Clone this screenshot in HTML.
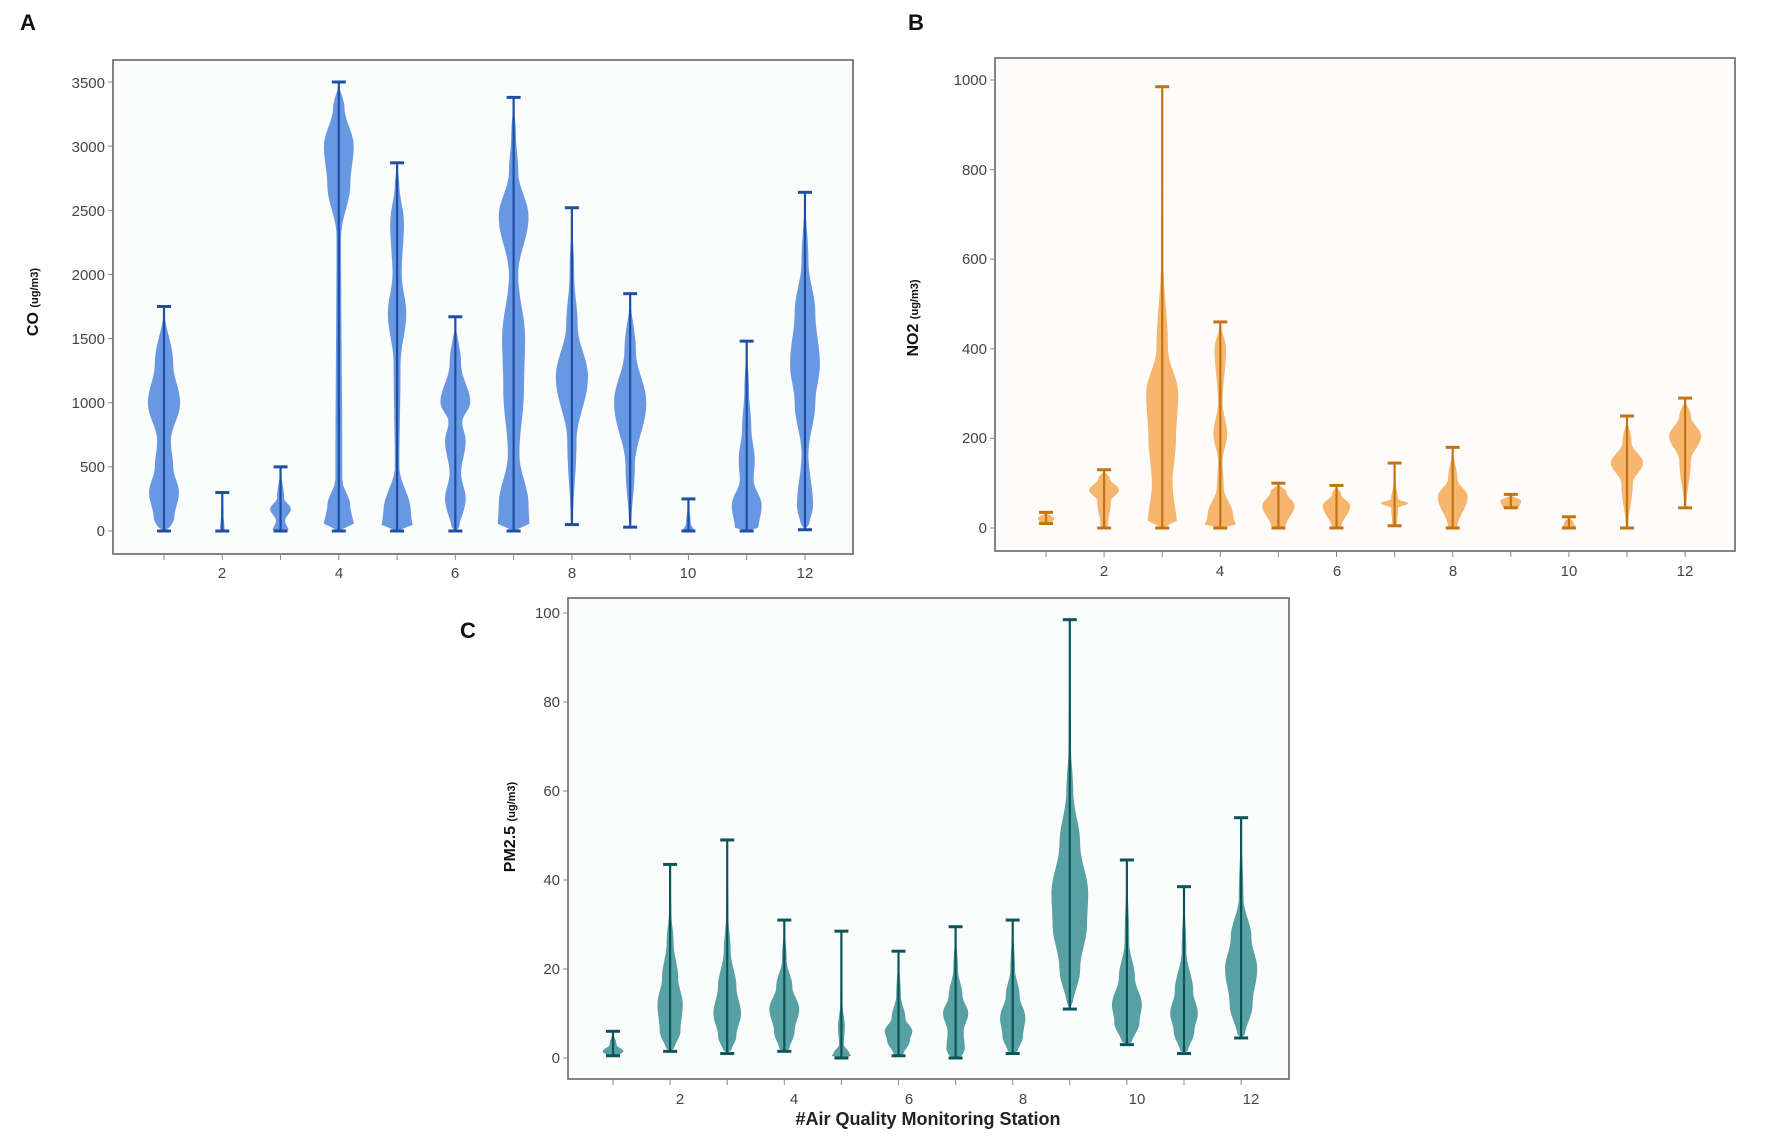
<!DOCTYPE html>
<html><head><meta charset="utf-8"><style>
html,body{margin:0;padding:0;background:#fff;}
svg{display:block;}
text{font-family:"Liberation Sans",sans-serif;}
</style></head><body>
<svg id="s" width="1772" height="1142" viewBox="0 0 1772 1142" xmlns="http://www.w3.org/2000/svg">
<rect width="1772" height="1142" fill="#fff"/>
<rect x="113" y="60" width="740" height="494" fill="#fbfcfc" stroke="#666" stroke-width="1.6"/>
<rect x="995" y="58" width="740" height="493" fill="#fdfcfa" stroke="#666" stroke-width="1.6"/>
<rect x="568" y="598" width="721" height="481" fill="#fbfcfc" stroke="#666" stroke-width="1.6"/>
<g id="v"></g>
<g font-size="15" fill="#444" text-anchor="end">
<text x="105" y="536">0</text><text x="105" y="472">500</text><text x="105" y="408">1000</text><text x="105" y="344">1500</text><text x="105" y="280">2000</text><text x="105" y="216">2500</text><text x="105" y="152">3000</text><text x="105" y="88">3500</text>
<text x="987" y="533">0</text><text x="987" y="443">200</text><text x="987" y="354">400</text><text x="987" y="264">600</text><text x="987" y="175">800</text><text x="987" y="85">1000</text>
<text x="560" y="1063">0</text><text x="560" y="974">20</text><text x="560" y="885">40</text><text x="560" y="796">60</text><text x="560" y="707">80</text><text x="560" y="618">100</text>
</g>
<g font-size="15" fill="#444" text-anchor="middle">
<text x="222" y="578">2</text><text x="339" y="578">4</text><text x="455" y="578">6</text><text x="572" y="578">8</text><text x="688" y="578">10</text><text x="805" y="578">12</text>
<text x="1104" y="576">2</text><text x="1220" y="576">4</text><text x="1337" y="576">6</text><text x="1453" y="576">8</text><text x="1569" y="576">10</text><text x="1685" y="576">12</text>
<text x="680" y="1104">2</text><text x="794" y="1104">4</text><text x="909" y="1104">6</text><text x="1023" y="1104">8</text><text x="1137" y="1104">10</text><text x="1251" y="1104">12</text>
</g>
<g font-weight="bold" fill="#111">
<text x="20" y="30" font-size="22">A</text>
<text x="908" y="30" font-size="22">B</text>
<text x="460" y="638" font-size="22">C</text>
<text transform="translate(38,302) rotate(-90)" text-anchor="middle" font-size="16">CO <tspan font-size="11">(ug/m3)</tspan></text>
<text transform="translate(918,318) rotate(-90)" text-anchor="middle" font-size="16">NO2 <tspan font-size="11">(ug/m3)</tspan></text>
<text transform="translate(515,827) rotate(-90)" text-anchor="middle" font-size="16">PM2.5 <tspan font-size="11">(ug/m3)</tspan></text>
<text x="928" y="1125" text-anchor="middle" font-size="18" fill="#222">#Air Quality Monitoring Station</text>
</g>
</svg>
<script>
var g=document.getElementById('v'),NS='http://www.w3.org/2000/svg';
function el(t,a){var e=document.createElementNS(NS,t);for(var k in a)e.setAttribute(k,a[k]);g.appendChild(e);}
function panel(P,data){
 for(var i=1;i<=12;i++){var x=P.x1+(i-1)*P.dx;el('line',{x1:x,y1:P.bot,x2:x,y2:P.bot+6,stroke:'#888','stroke-width':1});}
 P.yt.forEach(function(v){var y=P.y0-v*P.k;el('line',{x1:P.left-5,y1:y,x2:P.left,y2:y,stroke:'#888','stroke-width':1});});
 data.forEach(function(d,i){
  var cx=P.x1+i*P.dx,mn=d[0],mx=d[1],pts=[[mn,0]].concat(d[2]||[]).concat([[mx,0]]);
  pts.sort(function(a,b){return a[0]-b[0];});
  var L=[],R=[],N=60;
  for(var j=0;j<=N;j++){var v=mn+(mx-mn)*j/N,w=0;
   for(var q=0;q<pts.length-1;q++){if(v>=pts[q][0]&&v<=pts[q+1][0]){var t=(v-pts[q][0])/((pts[q+1][0]-pts[q][0])||1);t=(1-Math.cos(Math.PI*t))/2;w=pts[q][1]+(pts[q+1][1]-pts[q][1])*t;break;}}
   w*=1.15;
   var y=P.y0-v*P.k;L.push((cx-w).toFixed(1)+','+y.toFixed(1));R.unshift((cx+w).toFixed(1)+','+y.toFixed(1));}
  el('polygon',{points:L.concat(R).join(' '),fill:P.fill,'fill-opacity':0.85});
  var y1=P.y0-mn*P.k,y2=P.y0-mx*P.k;
  el('line',{x1:cx,y1:y1,x2:cx,y2:y2,stroke:P.line,'stroke-width':2.2});
  el('line',{x1:cx-7,y1:y1,x2:cx+7,y2:y1,stroke:P.line,'stroke-width':3});
  el('line',{x1:cx-7,y1:y2,x2:cx+7,y2:y2,stroke:P.line,'stroke-width':3});
 });
}
panel({x1:164,dx:58.27,y0:531,k:(531-82)/3500,bot:554,left:113,yt:[0,500,1000,1500,2000,2500,3000,3500],fill:'#4f86de',line:'#1d4fa6'},[
 [0,1750,[[0,4],[100,9],[300,13],[500,8],[700,6],[1000,14],[1300,8]]],
 [0,300,[[0,2],[150,1]]],
 [0,500,[[0,7],[80,4],[170,9],[260,3]]],
 [0,3500,[[0,14],[200,10],[400,3],[2300,2],[2700,10],[3000,13],[3300,5]]],
 [0,2870,[[0,14],[150,12],[500,2],[1300,3],[1700,8],[2000,4],[2400,6],[2700,2]]],
 [0,1670,[[0,3],[250,9],[450,5],[700,9],[850,6],[1000,13],[1300,5]]],
 [0,3380,[[0,14],[200,13],[600,5],[1100,9],[1500,10],[2000,4],[2450,13],[2800,4],[3100,2]]],
 [50,2520,[[50,1],[700,4],[1200,14],[1600,5],[2000,2]]],
 [30,1850,[[30,1],[500,4],[1000,14],[1400,5]]],
 [0,250,[[0,5],[60,2]]],
 [0,1480,[[0,10],[200,13],[400,6],[550,7],[800,4],[1100,2]]],
 [10,2640,[[10,3],[200,7],[600,3],[1000,9],[1300,13],[1700,9],[2100,3]]]
]);
panel({x1:1046,dx:58.1,y0:528,k:(528-80)/1000,bot:551,left:995,yt:[0,200,400,600,800,1000],fill:'#f4a955',line:'#c27413'},[
 [10,35,[[10,5],[22,7]]],
 [0,130,[[0,3],[60,6],[85,13],[110,5]]],
 [0,985,[[0,13],[100,9],[200,12],[300,14],[400,5],[600,1]]],
 [0,460,[[0,14],[30,11],[90,3],[150,2],[210,6],[280,2],[400,5]]],
 [0,100,[[0,6],[50,14],[80,7]]],
 [0,95,[[0,4],[50,12],[75,4]]],
 [5,145,[[5,2],[45,3],[55,12],[65,3],[100,1]]],
 [0,180,[[0,4],[70,13],[110,4]]],
 [45,75,[[45,7],[60,9]]],
 [0,25,[[0,6],[12,4]]],
 [0,250,[[0,1],[100,5],[145,14],[190,4]]],
 [45,290,[[45,1],[150,5],[205,14],[250,5]]]
]);
panel({x1:613,dx:57.1,y0:1058,k:(1058-613)/100,bot:1079,left:568,yt:[0,20,40,60,80,100],fill:'#3a8f93',line:'#0b5559'},[
 [0.5,6,[[0.5,5],[1.5,9],[3,3]]],
 [1.5,43.5,[[1.5,3],[6,9],[12,11],[18,7],[26,3],[33,1]]],
 [1,49,[[1,3],[5,8],[10,12],[16,8],[24,3],[32,1]]],
 [1.5,31,[[1.5,4],[6,9],[11,13],[16,7],[22,2]]],
 [0,28.5,[[0,10],[1,7],[3,2],[7,3],[12,1]]],
 [0.5,24,[[0.5,4],[4,10],[6,12],[9,6],[14,2]]],
 [0,29.5,[[0,5],[2,8],[6,7],[10,11],[14,6],[20,2]]],
 [1,31,[[1,4],[5,9],[9,11],[14,6],[20,2]]],
 [11,98.5,[[11,2],[20,9],[30,15],[37,16],[48,9],[60,3],[70,1]]],
 [3,44.5,[[3,4],[8,11],[12,13],[18,7],[26,2]]],
 [1,38.5,[[1,3],[6,9],[10,12],[15,8],[24,2]]],
 [4.5,54,[[4.5,3],[12,10],[20,14],[27,9],[36,2]]]
]);
</script>
</body></html>
